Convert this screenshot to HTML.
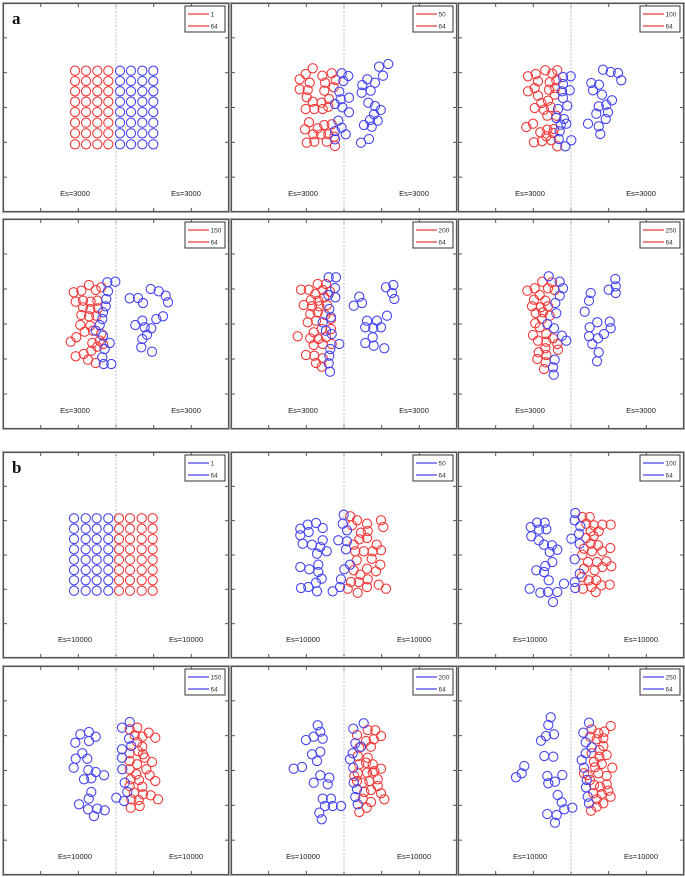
<!DOCTYPE html>
<html><head><meta charset="utf-8">
<style>
html,body{margin:0;padding:0;background:#fff;}
svg{display:block;font-family:"Liberation Sans",sans-serif;}
</style></head>
<body>
<svg id="fig" width="685" height="877" viewBox="0 0 685 877" xmlns="http://www.w3.org/2000/svg"></svg>
<script>
// ---- data (panel units: 3 units = 1 px, origin panel top-left) ----
const gridColsA = [216,249,283,316,351,384,418,451];
const gridRowsA = [203,234,265,296,327,359,391,424];
const gridColsB = [213,248,281,316,348,381,416,449];
const gridRowsB = [199,230,261,292,323,354,385,416];

const a2Red = [[245,196],[224,213],[206,229],[236,239],[206,259],[230,261],[227,283],[245,296],[224,318],[250,318],[274,218],[282,239],[280,263],[272,299],[275,318],[294,288],[302,211],[314,231],[308,253],[292,311],[234,358],[222,379],[260,376],[280,366],[302,364],[247,394],[270,394],[292,394],[227,419],[250,416],[287,416],[312,429],[310,401]];
const a2Blue = [[332,211],[352,219],[337,234],[325,266],[354,284],[329,289],[312,303],[334,313],[354,328],[322,353],[332,374],[312,384],[344,394],[312,409],[444,191],[472,183],[456,218],[409,229],[394,246],[432,239],[419,263],[392,269],[412,299],[432,309],[449,321],[429,334],[417,351],[440,353],[399,366],[422,371],[390,419],[414,408]];

const a3Red = [[210,220],[233,213],[262,202],[283,212],[298,202],[240,235],[275,238],[295,232],[230,255],[210,265],[273,260],[292,255],[240,278],[290,275],[270,293],[250,300],[230,315],[258,320],[278,312],[268,338],[295,338],[225,362],[205,372],[247,388],[268,380],[288,378],[265,400],[285,390],[228,418],[252,415],[280,412],[298,430]];
const a3Blue = [[315,222],[338,220],[315,243],[312,265],[335,262],[315,285],[328,308],[300,318],[295,345],[318,348],[308,365],[325,362],[305,385],[302,408],[340,412],[322,430],[435,200],[458,207],[480,210],[490,232],[400,240],[423,245],[405,262],[432,275],[462,292],[445,305],[422,310],[450,328],[415,332],[443,348],[390,362],[422,370],[427,393]];

const a4Red = [[212,220],[235,215],[258,198],[278,213],[295,205],[218,248],[240,245],[263,248],[283,245],[240,265],[262,270],[285,268],[235,288],[258,292],[280,290],[232,318],[262,320],[245,338],[270,335],[295,345],[220,355],[203,368],[268,372],[290,365],[265,395],[283,383],[242,405],[218,412],[255,422],[278,432],[300,375]];
const a4Blue = [[313,190],[337,188],[315,217],[310,240],[308,262],[300,280],[298,300],[290,318],[278,335],[300,350],[320,372],[305,390],[298,415],[302,435],[325,435],[380,238],[405,237],[420,252],[443,210],[467,217],[488,230],[495,250],[480,292],[460,300],[445,328],[418,305],[397,318],[425,325],[432,347],[418,360],[415,385],[447,398]];

const a5Red = [[210,212],[233,212],[260,195],[285,195],[253,225],[275,213],[297,218],[240,243],[262,245],[280,235],[218,258],[243,262],[265,262],[288,258],[238,285],[260,280],[283,288],[300,300],[230,310],[255,305],[248,340],[272,330],[300,330],[238,358],[262,360],[285,355],[200,352],[248,378],[275,375],[302,375],[225,408],[250,410],[275,418],[255,432],[272,443]];
const a5Blue = [[293,175],[315,175],[312,207],[292,228],[313,235],[295,270],[300,295],[275,310],[285,335],[302,345],[325,375],[298,390],[295,410],[293,433],[297,458],[385,233],[393,252],[368,260],[465,205],[487,198],[483,222],[490,240],[468,290],[408,305],[438,305],[403,325],[427,327],[450,325],[425,355],[403,372],[428,380],[460,388]];

const a6Red = [[208,215],[230,208],[253,188],[270,208],[290,213],[245,228],[228,242],[262,245],[222,262],[248,265],[270,262],[233,282],[255,280],[275,290],[232,313],[252,300],[245,325],[225,348],[265,345],[240,365],[265,368],[285,358],[298,375],[262,388],[242,400],[265,408],[238,420],[263,430],[258,450],[300,392],[282,190]];
const a6Blue = [[272,172],[305,188],[315,208],[305,230],[292,252],[295,283],[268,315],[288,328],[312,350],[325,365],[290,422],[285,445],[287,467],[398,222],[393,245],[380,278],[472,180],[473,202],[452,212],[473,222],[395,325],[393,352],[418,310],[438,345],[455,308],[458,328],[403,375],[420,358],[422,400],[417,427]];

const b2Blue = [[208,230],[230,218],[255,213],[275,228],[233,240],[208,250],[215,275],[243,278],[275,265],[268,285],[258,305],[287,298],[322,265],[338,188],[335,215],[348,235],[348,268],[345,292],[208,345],[235,352],[262,338],[262,360],[272,380],[255,392],[232,405],[210,408],[258,418],[305,418],[327,405],[330,382],[340,352],[357,338]];
const b2Red = [[358,193],[378,205],[363,220],[408,215],[450,205],[457,225],[390,242],[410,237],[408,258],[385,262],[368,278],[437,278],[373,298],[398,298],[425,298],[450,295],[377,325],[422,320],[448,338],[368,355],[408,350],[388,368],[435,358],[360,390],[383,390],[410,382],[350,410],[380,422],[408,405],[443,398],[465,410]];

const b3Blue = [[218,225],[237,212],[260,212],[243,233],[265,232],[220,253],[242,265],[258,278],[282,280],[275,300],[298,293],[283,330],[262,342],[235,355],[258,360],[272,385],[318,395],[215,410],[247,422],[270,420],[298,420],[285,450],[352,183],[350,205],[367,223],[340,260],[365,275],[350,322],[365,365],[350,390],[352,408],[363,245]];
const b3Red = [[373,195],[395,195],[385,215],[407,220],[433,218],[458,218],[398,238],[422,238],[385,258],[407,252],[398,275],[378,290],[402,298],[433,298],[457,288],[420,280],[373,308],[390,330],[417,330],[445,328],[460,343],[378,350],[410,355],[433,345],[372,375],[392,385],[415,385],[375,410],[400,405],[430,400],[455,398],[413,420]];

const b4Blue = [[232,205],[258,198],[278,212],[258,225],[217,230],[238,262],[218,278],[253,278],[212,305],[256,312],[278,318],[303,328],[243,340],[265,337],[265,378],[257,398],[228,415],[255,430],[283,428],[305,433],[273,450],[380,168],[357,185],[378,218],[385,240],[357,250],[357,275],[358,310],[365,350],[373,378],[340,395],[363,405]];
const b4Red = [[380,190],[403,185],[395,208],[418,212],[437,200],[457,215],[403,228],[418,242],[380,262],[405,255],[425,275],[447,288],[380,285],[402,295],[380,310],[430,310],[400,325],[383,340],[408,342],[440,328],[457,345],[380,360],[418,362],[393,380],[420,385],[443,388],[465,400],[385,400],[407,402],[383,425],[410,420],[420,265]];

const b5Blue = [[260,178],[268,197],[248,212],[275,218],[225,222],[243,265],[268,257],[258,285],[188,308],[213,303],[268,328],[295,335],[290,355],[248,350],[275,398],[300,398],[282,420],[305,420],[330,420],[265,440],[272,460],[398,172],[367,188],[373,232],[390,242],[365,262],[357,280],[367,305],[368,350],[378,370],[373,393],[380,415]];
const b5Red = [[378,207],[410,192],[433,193],[450,210],[405,225],[428,220],[385,245],[420,242],[380,270],[410,275],[385,295],[405,290],[425,295],[450,308],[380,322],[408,320],[430,315],[395,350],[415,345],[440,340],[378,345],[400,378],[420,372],[440,360],[450,382],[460,400],[395,398],[420,408],[385,438],[407,425],[370,330],[425,320]];

const b6Blue = [[278,154],[271,177],[264,210],[288,205],[249,224],[259,270],[286,272],[199,300],[191,322],[174,334],[268,330],[271,352],[291,347],[313,327],[299,387],[311,409],[319,430],[343,425],[268,444],[296,447],[291,470],[393,170],[376,200],[383,229],[383,262],[371,282],[378,305],[386,342],[384,364],[389,392],[393,412],[401,244]];
const b6Red = [[401,190],[421,202],[458,180],[439,197],[396,212],[416,220],[436,217],[436,240],[401,262],[424,272],[408,287],[431,294],[463,305],[389,327],[411,304],[396,342],[421,322],[446,330],[408,357],[426,362],[446,355],[406,382],[431,384],[451,374],[458,392],[416,400],[436,412],[399,434],[416,422],[424,252],[378,322],[446,267]];

const legendSteps = ["1","50","100","150","200","250"];
const esLabelsA = ["Es=3000","Es=3000"];
const esLabelsB = ["Es=10000","Es=10000"];

// ---- layout ----
const colX = [3,231,458];
const rowY = [3,219,452,666];
const rowH = [209,210,206,209];
const PW = 226;
const RED = "#f23a3a", BLUE = "#4646f0";
const NS = "http://www.w3.org/2000/svg";
const svg = document.getElementById('fig');

function mk(tag, attrs, parent){
  const e = document.createElementNS(NS, tag);
  for (const k in attrs) e.setAttribute(k, attrs[k]);
  (parent||svg).appendChild(e);
  return e;
}
function sx(d){ return d/3; }
function sy(d){ return d/3; }

function gridPoints(cols, rows){
  const pts=[];
  rows.forEach(r=>cols.forEach(c=>pts.push([c,r])));
  return pts;
}

const panels = [];
const gA = gridPoints(gridColsA, gridRowsA);
const gB = gridPoints(gridColsB, gridRowsB);
panels.push({r:0,c:0,series:[[gA.filter(p=>p[0]<335),RED],[gA.filter(p=>p[0]>335),BLUE]],leg:RED,step:0,es:esLabelsA,tag:"a"});
panels.push({r:0,c:1,series:[[a2Red,RED],[a2Blue,BLUE]],leg:RED,step:1,es:esLabelsA});
panels.push({r:0,c:2,series:[[a3Red,RED],[a3Blue,BLUE]],leg:RED,step:2,es:esLabelsA});
panels.push({r:1,c:0,series:[[a4Red,RED],[a4Blue,BLUE]],leg:RED,step:3,es:esLabelsA});
panels.push({r:1,c:1,series:[[a5Red,RED],[a5Blue,BLUE]],leg:RED,step:4,es:esLabelsA});
panels.push({r:1,c:2,series:[[a6Red,RED],[a6Blue,BLUE]],leg:RED,step:5,es:esLabelsA});
panels.push({r:2,c:0,series:[[gB.filter(p=>p[0]<335),BLUE],[gB.filter(p=>p[0]>335),RED]],leg:BLUE,step:0,es:esLabelsB,tag:"b"});
panels.push({r:2,c:1,series:[[b2Red,RED],[b2Blue,BLUE]],leg:BLUE,step:1,es:esLabelsB});
panels.push({r:2,c:2,series:[[b3Red,RED],[b3Blue,BLUE]],leg:BLUE,step:2,es:esLabelsB});
panels.push({r:3,c:0,series:[[b4Red,RED],[b4Blue,BLUE]],leg:BLUE,step:3,es:esLabelsB});
panels.push({r:3,c:1,series:[[b5Red,RED],[b5Blue,BLUE]],leg:BLUE,step:4,es:esLabelsB});
panels.push({r:3,c:2,series:[[b6Red,RED],[b6Blue,BLUE]],leg:BLUE,step:5,es:esLabelsB});

panels.forEach((p,i)=>{
  const x0 = colX[p.c], y0 = rowY[p.r], H = rowH[p.r];
  const g = mk('g',{transform:`translate(${x0},${y0})`});
  
  
  const fr = mk('rect',{x:-0.5,y:-0.5,width:PW+1,height:H+1,fill:'none',stroke:'#b0b0b0','stroke-width':1},g);
  
  
  const fi = mk('rect',{x:0.5,y:0.5,width:PW-1,height:H-1,fill:'#fff',stroke:'#555','stroke-width':1.2},g);
  
  
  for(let k=1;k<6;k++){
    const tx = PW*k/6, ty = H*k/6;
    [[tx,1,tx,4],[tx,H-1,tx,H-4],[1,ty,4,ty],[PW-1,ty,PW-4,ty]].forEach(l=>{
      const t = mk('line',{x1:l[0],y1:l[1],x2:l[2],y2:l[3],stroke:'#555','stroke-width':1},g);
      
      
    });
  }
  const cl = mk('line',{x1:PW/2,y1:1,x2:PW/2,y2:H-1,stroke:'#b8bcd8','stroke-width':1,'stroke-dasharray':'2,1.5'},g);
  
  
  p.series.forEach(([pts,col])=>{
    pts.forEach(pt=>{
      const c = mk('circle',{cx:sx(pt[0]).toFixed(1),cy:sy(pt[1]).toFixed(1),r:4.6,fill:'none',stroke:col,'stroke-width':1.1},g);
      
      
    });
  });
  const lg = mk('g',{},g);
  
  
  mk('rect',{x:PW-44,y:3,width:40,height:26,fill:'#fff',stroke:'#333','stroke-width':1},lg);
  [[legendSteps[p.step],11],["64",23]].forEach(([lab,yy])=>{
    const ln = mk('line',{x1:PW-41,y1:yy,x2:PW-20,y2:yy,stroke:p.leg,'stroke-width':1.3},lg);
    
    
    const tx = mk('text',{x:PW-18.5,y:yy+2.3,'font-size':6.5,fill:'#333'},lg);
    tx.textContent = lab;
    
    
  });
  [[72,p.es[0]],[183,p.es[1]]].forEach(([cx,lab],j)=>{
    const t = mk('text',{x:cx,y:H-16,'font-size':7.5,'text-anchor':'middle',fill:'#222'},g);
    t.textContent = lab;
    
    
  });
  if(p.tag){
    const t = mk('text',{x:9,y:21,'font-size':17,'font-weight':'bold','font-family':'"Liberation Serif",serif',fill:'#111'},g);
    t.textContent = p.tag;
    
    
  }
});
</script>
</body></html>
